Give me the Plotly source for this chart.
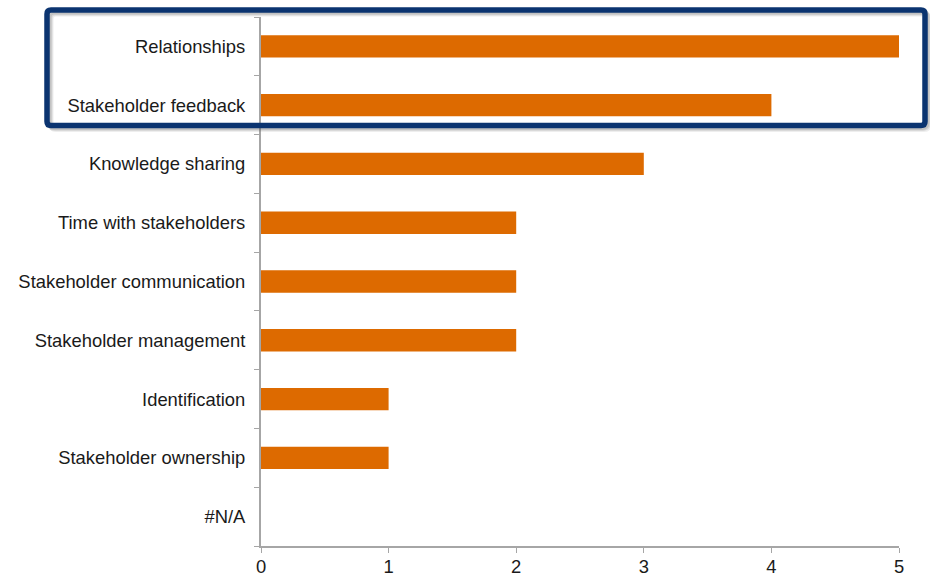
import plotly.graph_objects as go

# Category labels listed top to bottom, with their counts
categories = [
    "Relationships",
    "Stakeholder feedback",
    "Knowledge sharing",
    "Time with stakeholders",
    "Stakeholder communication",
    "Stakeholder management",
    "Identification",
    "Stakeholder ownership",
    "#N/A",
]
counts = [5, 4, 3, 2, 2, 2, 1, 1, 0]
x_ticks = [0, 1, 2, 3, 4, 5]

W, H = 930, 577
L, R, T, B = 261, 31, 17, 31
plot_w = W - L - R
plot_h = H - T - B


def px_to_paper(x, y):
    return (x - L) / plot_w, (H - B - y) / plot_h


def rounded_rect(x0, y0, x1, y1, r):
    (a0, b0) = px_to_paper(x0, y0)
    (a1, b1) = px_to_paper(x1, y1)
    rx = r / plot_w
    ry = r / plot_h
    # y in paper runs upward: b0 is top, b1 is bottom
    return (
        f"M {a0 + rx},{b0} L {a1 - rx},{b0} Q {a1},{b0} {a1},{b0 - ry} "
        f"L {a1},{b1 + ry} Q {a1},{b1} {a1 - rx},{b1} "
        f"L {a0 + rx},{b1} Q {a0},{b1} {a0},{b1 + ry} "
        f"L {a0},{b0 - ry} Q {a0},{b0} {a0 + rx},{b0} Z"
    )


fig = go.Figure(
    go.Bar(
        x=counts,
        y=categories,
        orientation="h",
        marker=dict(color="#DD6A00", line=dict(width=0)),
        width=0.38,
    )
)

axis_grey = "#A6A6A6"
label_font = dict(family="Liberation Sans, Arial, sans-serif", size=18.4, color="#1A1A1A")
fig.update_layout(
    width=W,
    height=H,
    margin=dict(l=L, r=R, t=T, b=B),
    paper_bgcolor="white",
    plot_bgcolor="white",
    showlegend=False,
    font=label_font,
    xaxis=dict(
        range=[0, 5],
        tickvals=x_ticks,
        ticks="outside",
        ticklen=5,
        tickcolor=axis_grey,
        showline=True,
        linecolor=axis_grey,
        linewidth=2,
        showgrid=False,
        zeroline=False,
        automargin=False,
        ticklabelstandoff=-2,
        tickfont=label_font,
    ),
    yaxis=dict(
        categoryorder="array",
        categoryarray=categories[::-1],
        range=[-0.5, len(categories) - 0.5],
        ticks="outside",
        ticklen=5,
        tickcolor=axis_grey,
        tickson="boundaries",
        showline=True,
        linecolor=axis_grey,
        linewidth=2,
        showgrid=False,
        zeroline=False,
        automargin=False,
        ticklabelstandoff=10,
        tickfont=label_font,
    ),
)

shapes = []
# soft drop shadow behind the highlight frame
for off, op in [(4, 0.10), (3, 0.14), (2, 0.18)]:
    shapes.append(dict(
        type="path", xref="paper", yref="paper",
        path=rounded_rect(47 + off, 10 + off, 925 + off, 125.5 + off, 5),
        line=dict(color=f"rgba(90,90,90,{op})", width=5),
        fillcolor="rgba(0,0,0,0)", layer="above",
    ))
# highlight frame around the top two categories
shapes.append(dict(
    type="path", xref="paper", yref="paper",
    path=rounded_rect(47, 10, 925, 125.5, 4),
    line=dict(color="#0B3470", width=5.5),
    fillcolor="rgba(0,0,0,0)", layer="above",
))
fig.update_layout(shapes=shapes)

fig.write_html("out.html")
